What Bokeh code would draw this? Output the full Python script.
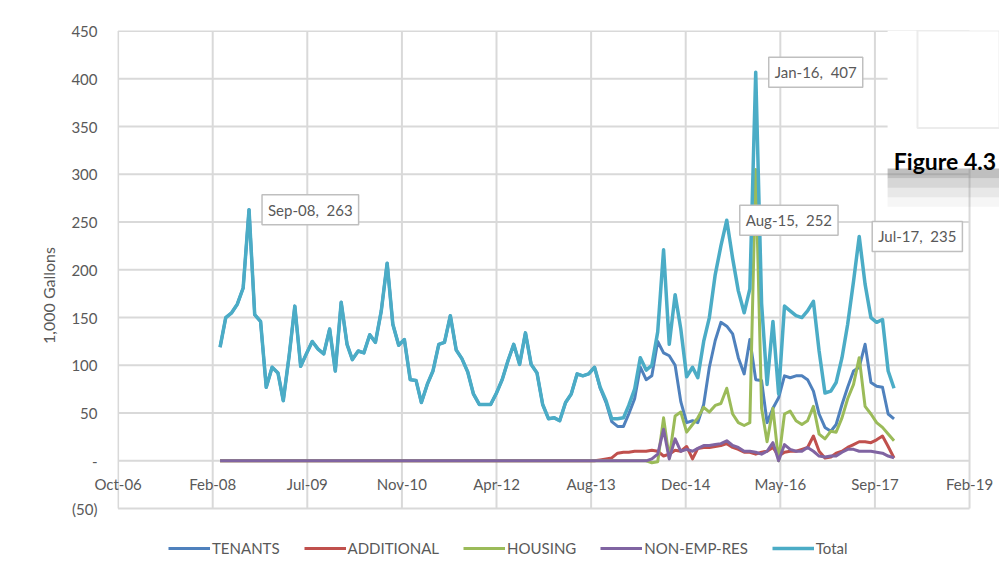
import pandas as pd
from bokeh.plotting import figure
from bokeh.models import (Range1d, FixedTicker, Legend, LegendItem, ColumnDataSource,
                          BoxAnnotation, Label)
from bokeh.embed import file_html
from bokeh.resources import INLINE

# ---------------- data (monthly, Apr-2008 .. Jan-2018) ----------------
months = pd.date_range("2008-04-01", periods=118, freq="MS")

total = [
    119, 150, 155, 164, 181, 263, 153, 146, 77,
    98, 92, 63, 110, 162, 99, 112, 125, 117, 112, 138, 94,
    166, 122, 106, 115, 113, 132, 124, 157, 207, 143, 121, 127,
    85, 84, 61, 80, 94, 122, 124, 152, 116, 107, 93, 70,
    59, 59, 59, 71, 85, 105, 122, 101, 134, 101, 92, 59,
    44, 45, 42, 61, 70, 91, 89, 91, 98, 77, 63, 44,
    44, 45, 58, 75, 108, 95, 100, 135, 221, 122, 174, 138,
    88, 98, 87, 125, 150, 195, 225, 252, 212, 178, 155, 180,
    407, 165, 80, 146, 70, 162, 157, 152, 150, 157, 167, 115,
    71, 73, 82, 108, 143, 188, 235, 185, 150, 145, 148, 94,
    76,
]

tenants = [
    119, 150, 155, 164, 181, 263, 153, 146, 77,
    98, 92, 63, 110, 162, 99, 112, 125, 117, 112, 138, 94,
    166, 122, 106, 115, 113, 132, 124, 157, 207, 143, 121, 127,
    85, 84, 61, 80, 94, 122, 124, 152, 116, 107, 93, 70,
    59, 59, 59, 71, 85, 105, 122, 101, 134, 101, 92, 59,
    44, 45, 42, 61, 70, 91, 89, 91, 98, 76, 61, 41,
    36, 36, 49, 65, 98, 85, 89, 125, 113, 110, 100, 62,
    40, 42, 40, 59, 98, 126, 145, 141, 133, 108, 91, 127,
    85, 84, 40, 55, 66, 89, 87, 89, 89, 85, 73, 49,
    35, 31, 38, 59, 77, 94, 98, 122, 82, 78, 77, 49,
    44,
]

additional = [
    0, 0, 0, 0, 0, 0, 0, 0, 0,
    0, 0, 0, 0, 0, 0, 0, 0, 0, 0, 0, 0,
    0, 0, 0, 0, 0, 0, 0, 0, 0, 0, 0, 0,
    0, 0, 0, 0, 0, 0, 0, 0, 0, 0, 0, 0,
    0, 0, 0, 0, 0, 0, 0, 0, 0, 0, 0, 0,
    0, 0, 0, 0, 0, 0, 0, 0, 0, 1, 2, 3,
    8, 9, 9, 10, 10, 10, 11, 10, 5, 7, 11, 10,
    15, 2, 13, 14, 14, 15, 16, 18, 14, 12, 9, 9,
    7, 9, 10, 14, 5, 9, 10, 10, 12, 14, 26, 10,
    3, 4, 8, 10, 14, 17, 20, 20, 19, 22, 26, 15,
    3,
]

housing = [
    0, 0, 0, 0, 0, 0, 0, 0, 0,
    0, 0, 0, 0, 0, 0, 0, 0, 0, 0, 0, 0,
    0, 0, 0, 0, 0, 0, 0, 0, 0, 0, 0, 0,
    0, 0, 0, 0, 0, 0, 0, 0, 0, 0, 0, 0,
    0, 0, 0, 0, 0, 0, 0, 0, 0, 0, 0, 0,
    0, 0, 0, 0, 0, 0, 0, 0, 0, 0, 0, 0,
    0, 0, 0, 0, 0, 0, -2, -1, 45, 3, 47, 51,
    30, 38, 45, 56, 51, 58, 60, 76, 49, 40, 37, 40,
    305, 55, 20, 55, 0, 49, 52, 42, 38, 42, 57, 28,
    23, 31, 30, 45, 65, 80, 108, 57, 49, 40, 35, 28,
    21,
]

non_emp_res = [
    0, 0, 0, 0, 0, 0, 0, 0, 0,
    0, 0, 0, 0, 0, 0, 0, 0, 0, 0, 0, 0,
    0, 0, 0, 0, 0, 0, 0, 0, 0, 0, 0, 0,
    0, 0, 0, 0, 0, 0, 0, 0, 0, 0, 0, 0,
    0, 0, 0, 0, 0, 0, 0, 0, 0, 0, 0, 0,
    0, 0, 0, 0, 0, 0, 0, 0, 0, 0, 0, 0,
    0, 0, 0, 0, 0, 0, 2, 7, 33, 2, 23, 10,
    12, 10, 13, 16, 16, 17, 18, 21, 16, 14, 10, 10,
    9, 7, 10, 19, 0, 17, 12, 10, 10, 14, 10, 5,
    4, 5, 5, 9, 12, 12, 10, 10, 10, 9, 8, 5,
    3,
]

series_names = ["TENANTS", "ADDITIONAL", "HOUSING", "NON-EMP-RES", "Total"]

# Excel date serials for axis ticks (500-day major unit)
x_ticks = [39000, 39500, 40000, 40500, 41000, 41500, 42000, 42500, 43000, 43500]
x_tick_labels = ["Oct-06", "Feb-08", "Jul-09", "Nov-10", "Apr-12",
                 "Aug-13", "Dec-14", "May-16", "Sep-17", "Feb-19"]
y_ticks = [-50, 0, 50, 100, 150, 200, 250, 300, 350, 400, 450]
y_tick_labels = ["(50)", "-", "50", "100", "150", "200", "250", "300", "350", "400", "450"]

callout_months = ["Sep-08", "Aug-15", "Jan-16", "Jul-17"]

for arr in (total, tenants, additional, housing, non_emp_res):
    assert len(arr) == len(months)

# ---------------- build ----------------
serial = [(m - pd.Timestamp("1899-12-30")).days for m in months]
mlabels = [m.strftime("%b-%y") for m in months]

src = ColumnDataSource(dict(x=serial, tenants=tenants, additional=additional,
                            housing=housing, non_emp_res=non_emp_res, total=total))

FONT = "Lato"
TXT = "#595959"
GRID = "#d9d9d9"
FS = "15px"

# geometry: plot area 852 x 478 px for the value/date span; the frame is extended
# to the right (caption overlay) and downward (legend row)
PX_X = 852 / (x_ticks[-1] - x_ticks[0])
PX_Y = 478 / (y_ticks[-1] - y_ticks[0])
EXT_R, EXT_B = 30, 52
x_end = x_ticks[-1] + EXT_R / PX_X
y_start = y_ticks[0] - EXT_B / PX_Y

p = figure(frame_width=852 + EXT_R, frame_height=478 + EXT_B,
           x_range=Range1d(x_ticks[0] - 0.6 / PX_X, x_end),
           y_range=Range1d(y_start, y_ticks[-1] + 0.6 / PX_Y),
           output_backend="svg", toolbar_location=None,
           min_border_left=117, min_border_right=0,
           min_border_top=30, min_border_bottom=6)

p.background_fill_color = "white"
p.border_fill_color = "white"
p.outline_line_color = None
p.xgrid.visible = False
p.ygrid.visible = False

# gridlines limited to the plot area (date span x value span)
p.segment(x0=x_ticks, x1=x_ticks, y0=[y_ticks[0]] * len(x_ticks), y1=[y_ticks[-1]] * len(x_ticks),
          line_color=GRID, line_width=2)
p.segment(x0=[x_ticks[0]] * len(y_ticks), x1=[x_ticks[-1]] * len(y_ticks), y0=y_ticks, y1=y_ticks,
          line_color=GRID, line_width=2)

# x axis: labels lifted to sit just under the zero line (axis crosses at 0)
xa = p.xaxis[0]
xa.ticker = FixedTicker(ticks=x_ticks)
xa.major_label_overrides = {t: l for t, l in zip(x_ticks, x_tick_labels)}
xa.axis_line_color = None
xa.major_tick_line_color = None
xa.minor_tick_line_color = None
xa.major_tick_out = 0
xa.major_tick_in = 0
xa.major_label_standoff = -int(round(EXT_B + 50 * PX_Y - 14))
xa.major_label_text_font = FONT
xa.major_label_text_font_size = FS
xa.major_label_text_color = TXT

ya = p.yaxis[0]
ya.ticker = FixedTicker(ticks=y_ticks)
ya.bounds = (y_ticks[0], y_ticks[-1])
ya.major_label_overrides = {t: l for t, l in zip(y_ticks, y_tick_labels)}
ya.axis_line_color = None
ya.major_tick_line_color = None
ya.minor_tick_line_color = None
ya.major_tick_out = 0
ya.major_tick_in = 0
ya.major_label_standoff = 20
ya.major_label_text_font = FONT
ya.major_label_text_font_size = FS
ya.major_label_text_color = TXT
ya.axis_label = "1,000 Gallons"
ya.axis_label_text_font = FONT
ya.axis_label_text_font_size = "16px"
ya.axis_label_text_font_style = "normal"
ya.axis_label_text_color = TXT
ya.axis_label_standoff = 10

colors = ["#4F81BD", "#C0504D", "#9BBB59", "#8064A2", "#4BACC6"]
cols = ["tenants", "additional", "housing", "non_emp_res", "total"]
widths = [3, 3, 3, 3, 3.5]
renderers = []
for c, col, w in zip(colors, cols, widths):
    r = p.line("x", col, source=src, line_color=c, line_width=w, line_join="round")
    renderers.append(r)

legend = Legend(items=[LegendItem(label=n, renderers=[r]) for n, r in zip(series_names, renderers)],
                orientation="horizontal", location=(51, 3),
                glyph_width=42, glyph_height=14, label_standoff=2, spacing=24,
                padding=2, margin=0,
                label_text_font=FONT, label_text_font_size=FS, label_text_color=TXT,
                border_line_color=None, background_fill_alpha=0)
p.add_layout(legend)

# data callouts
for cm in callout_months:
    i = mlabels.index(cm)
    lab = Label(x=serial[i], y=total[i], text=f"{cm},\u00a0 {total[i]}",
                x_offset=13, y_offset=0, text_baseline="middle", text_align="left",
                text_font=FONT, text_font_size=FS, text_color=TXT,
                background_fill_color="white", border_line_color="#bfbfbf",
                border_line_width=1.5, padding=6)
    p.add_layout(lab)

# overlapping caption block (top right of the screenshot)
p.add_layout(BoxAnnotation(left=43067, bottom=306, fill_color="white", fill_alpha=1,
                           line_color=None, level="overlay"))
for b0, b1, a in [(296, 306, 0.5), (286, 296, 0.32), (276, 286, 0.18), (266, 276, 0.07)]:
    p.add_layout(BoxAnnotation(left=43067, bottom=b0, top=b1, fill_color="#7f7f7f",
                               fill_alpha=a, line_color=None, level="overlay"))
p.add_layout(BoxAnnotation(left=43225, bottom=348.5, fill_color="white", fill_alpha=1,
                           line_color="#bfbfbf", line_width=2, level="overlay"))
p.add_layout(Label(x=43100, y=314, text="Figure 4.3", text_font=FONT, text_font_size="23px",
                   text_font_style="bold", text_color="black", text_baseline="alphabetic",
                   level="overlay"))

open("out.html", "w").write(file_html(p, INLINE))
